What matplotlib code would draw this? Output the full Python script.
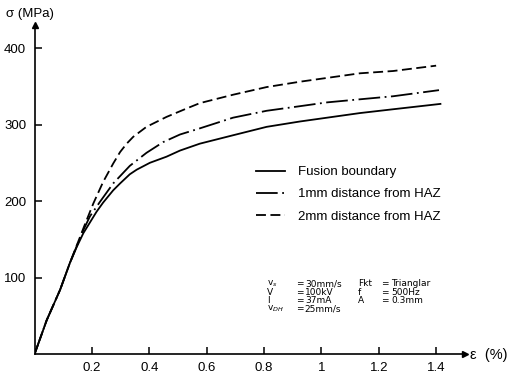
import matplotlib
matplotlib.use("Agg")
import matplotlib.pyplot as plt

plt.rcParams['font.family'] = ['Liberation Sans', 'DejaVu Sans']

# strain (%) and stress (MPa)
eps_fusion = [0.0, 0.042, 0.089, 0.123, 0.147, 0.17, 0.193, 0.216, 0.239, 0.274, 0.298, 0.332,
              0.356, 0.402, 0.46, 0.507, 0.576, 0.692, 0.809, 0.925, 1.02, 1.134, 1.25, 1.415]
sig_fusion = [0, 44, 84, 119, 140, 158, 172, 186, 198, 214, 223, 235,
              241, 250, 258, 266, 275, 286, 297, 304, 309, 315, 320, 327]

eps_1mm = [0.0, 0.042, 0.089, 0.123, 0.147, 0.17, 0.193, 0.228, 0.274, 0.332, 0.39, 0.448,
           0.507, 0.576, 0.692, 0.809, 0.925, 1.02, 1.134, 1.25, 1.41]
sig_1mm = [0, 44, 84, 119, 141, 162, 180, 199, 223, 246, 263, 277,
           287, 295, 309, 318, 324, 329, 333, 337, 345]

eps_2mm = [0.0, 0.042, 0.089, 0.123, 0.147, 0.176, 0.205, 0.239, 0.274, 0.298, 0.321, 0.344,
           0.39, 0.46, 0.53, 0.576, 0.692, 0.809, 0.925, 1.02, 1.134, 1.25, 1.40]
sig_2mm = [0, 44, 84, 119, 142, 170, 197, 225, 249, 264, 275, 284,
           297, 310, 321, 328, 339, 349, 356, 361, 367, 370, 377]

labels = ['Fusion boundary', '1mm distance from HAZ', '2mm distance from HAZ']

x_ticks = [0.2, 0.4, 0.6, 0.8, 1.0, 1.2, 1.4]
x_ticklabels = ['0.2', '0.4', '0.6', '0.8', '1', '1.2', '1.4']
y_ticks = [100, 200, 300, 400]

params_left = [('v$_s$', '30mm/s'), ('V', '100kV'), ('I', '37mA'), ('v$_{DH}$', '25mm/s')]
params_right = [('Fkt', 'Trianglar'), ('f', '500Hz'), ('A', '0.3mm')]

fig = plt.figure(figsize=(5.14, 3.75), dpi=100)
ax = fig.add_axes([0.0673, 0.056, 0.837, 0.877])

lw = 1.3
ax.plot(eps_fusion, sig_fusion, color='black', lw=lw, linestyle='-', label=labels[0])
ax.plot(eps_1mm, sig_1mm, color='black', lw=lw, linestyle=(0, (12, 2.5, 1, 2.5)), label=labels[1])
ax.plot(eps_2mm, sig_2mm, color='black', lw=lw, linestyle=(0, (5.5, 2.5)), label=labels[2])

ax.set_xlim(0, 1.5)
ax.set_ylim(0, 430)
ax.spines['top'].set_visible(False)
ax.spines['right'].set_visible(False)
ax.spines['left'].set_linewidth(1.2)
ax.spines['bottom'].set_linewidth(1.2)

ax.set_xticks(x_ticks)
ax.set_xticklabels(x_ticklabels)
ax.set_yticks(y_ticks)
ax.tick_params(direction='in', length=5, width=1.1, labelsize=9.5, pad=6)

# axis arrows
ax.plot(1, 0, '>k', ms=5, transform=ax.transAxes, clip_on=False)
ax.plot(0, 1, '^k', ms=5, transform=ax.transAxes, clip_on=False)

fig.text(0.012, 0.962, 'σ (MPa)', fontsize=9.5, va='center', ha='left')
fig.text(0.914, 0.053, 'ε  (%)', fontsize=10.5, va='center', ha='left')

leg = ax.legend(loc='upper left', bbox_to_anchor=(0.474, 0.589), bbox_transform=fig.transFigure,
                frameon=False, fontsize=9.5, handlelength=2.2, handletextpad=1.0, labelspacing=0.75)

# process parameters block
y0 = 1 - 284 / 375
dy = 8.3 / 375
pfont = dict(fontsize=6.5, va='center', family='DejaVu Sans')
for i, (k, v) in enumerate(params_left):
    y = y0 - i * dy
    fig.text(0.519, y, k, **pfont)
    fig.text(0.576, y, '=', **pfont)
    fig.text(0.593, y, v, **pfont)
for i, (k, v) in enumerate(params_right):
    y = y0 - i * dy
    fig.text(0.697, y, k, **pfont)
    fig.text(0.741, y, '=', **pfont)
    fig.text(0.761, y, v, **pfont)

fig.savefig('out.png', dpi=100)
